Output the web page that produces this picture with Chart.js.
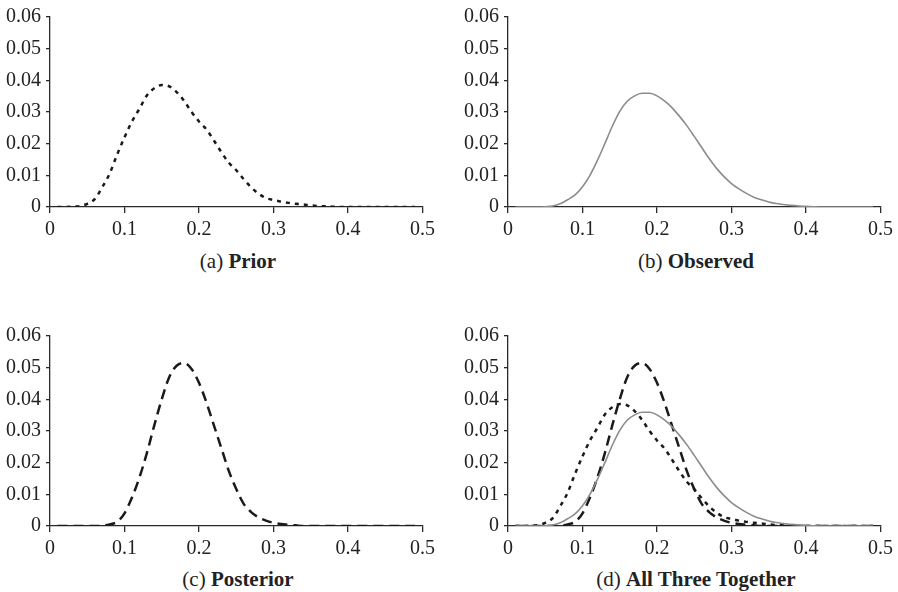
<!DOCTYPE html>
<html>
<head>
<meta charset="utf-8">
<script src="https://cdn.jsdelivr.net/npm/chart.js@4"></script>
<style>
    body { margin: 0; background: #fff; width: 898px; height: 592px; position: relative; overflow: hidden; }
    .panel { position: absolute; }
    .caption { position: absolute; font-family: 'Liberation Serif', serif; font-size: 21px; color: #222; text-align: center; width: 400px; }
</style>
</head>
<body>
<div class="panel" style="left:0;top:0;width:440px;height:240px"><canvas id="chartA"></canvas></div>
<div class="panel" style="left:450px;top:0;width:448px;height:240px"><canvas id="chartB"></canvas></div>
<div class="panel" style="left:0;top:319px;width:440px;height:240px"><canvas id="chartC"></canvas></div>
<div class="panel" style="left:450px;top:319px;width:448px;height:240px"><canvas id="chartD"></canvas></div>
<div class="caption" style="left:38px;top:249px">(a) <b>Prior</b></div>
<div class="caption" style="left:496px;top:249px">(b) <b>Observed</b></div>
<div class="caption" style="left:38px;top:567px">(c) <b>Posterior</b></div>
<div class="caption" style="left:496px;top:567px">(d) <b>All Three Together</b></div>
<script>
(function app() {

    const proportions = [0.01, 0.02, 0.03, 0.04, 0.05, 0.06, 0.07, 0.08, 0.09, 0.10,
        0.11, 0.12, 0.13, 0.14, 0.15, 0.16, 0.17, 0.18, 0.19, 0.20,
        0.21, 0.22, 0.23, 0.24, 0.25, 0.26, 0.27, 0.28, 0.29, 0.30,
        0.31, 0.32, 0.33, 0.34, 0.35, 0.36, 0.37, 0.38, 0.39, 0.40,
        0.41, 0.42, 0.43, 0.44, 0.45, 0.46, 0.47, 0.48, 0.49];

    const prior = [0, 0, 0.0001, 0.0003, 0.001, 0.0025, 0.0062, 0.0105, 0.0165, 0.022,
        0.027, 0.031, 0.0352, 0.0375, 0.0385, 0.0381, 0.0363, 0.0335, 0.030, 0.027,
        0.0245, 0.021, 0.0173, 0.014, 0.0116, 0.0088, 0.0062, 0.0042, 0.0028, 0.0022,
        0.0017, 0.0013, 0.001, 0.0008, 0.0005, 0.0003, 0.0002, 0.0001, 0, 0,
        0, 0, 0, 0, 0, 0, 0, 0, 0];

    const observed = [0, 0, 0, 0, 0.0001, 0.0003, 0.001, 0.0023, 0.0038, 0.0064,
        0.010, 0.0147, 0.020, 0.0255, 0.0302, 0.0334, 0.0351, 0.0359, 0.0359, 0.0351,
        0.0335, 0.0314, 0.0287, 0.0257, 0.0223, 0.0188, 0.0153, 0.0122, 0.0096, 0.0074,
        0.0057, 0.0043, 0.0031, 0.0023, 0.0016, 0.0011, 0.0008, 0.0005, 0.0003, 0.0002,
        0.0001, 0, 0, 0, 0, 0, 0, 0, 0];

    const posterior = [0, 0, 0, 0, 0, 0, 0.0001, 0.0005, 0.0013, 0.004,
        0.009, 0.0153, 0.023, 0.0318, 0.040, 0.047, 0.0506, 0.0515, 0.0496, 0.0452,
        0.039, 0.0318, 0.0246, 0.0174, 0.0117, 0.007, 0.0044, 0.0027, 0.0017, 0.001,
        0.0006, 0.0004, 0.0002, 0, 0, 0, 0, 0, 0, 0,
        0, 0, 0, 0, 0, 0, 0, 0, 0];

    const xTicks = [0, 0.1, 0.2, 0.3, 0.4, 0.5];
    const yTicks = [0, 0.01, 0.02, 0.03, 0.04, 0.05, 0.06];

    const tickFont = { family: "'Liberation Serif', serif", size: 20 };
    const axisColor = '#2a2a2a';

    const toPoints = values => proportions.map((x, i) => ({ x: x, y: values[i] }));

    const priorSeries = () => ({
        data: toPoints(prior),
        borderColor: '#1a1a1a',
        borderWidth: 2.5,
        borderDash: [4, 5],
        pointRadius: 0,
        cubicInterpolationMode: 'monotone'
    });

    const observedSeries = () => ({
        data: toPoints(observed),
        borderColor: '#8c8c8c',
        borderWidth: 1.6,
        pointRadius: 0,
        cubicInterpolationMode: 'monotone'
    });

    const posteriorSeries = () => ({
        data: toPoints(posterior),
        borderColor: '#1a1a1a',
        borderWidth: 2.5,
        borderDash: [10, 6],
        pointRadius: 0,
        cubicInterpolationMode: 'monotone'
    });

    function makeChart(canvasId, datasets, yAxisWidth, rightPadding) {
        const configuration = {
            type: 'scatter',
            data: { datasets: datasets.map(d => Object.assign(d, { showLine: true })) },
            options: {
                responsive: true,
                maintainAspectRatio: false,
                animation: false,
                layout: { padding: { top: 14, right: rightPadding, bottom: 0, left: 0 } },
                plugins: { legend: { display: false }, tooltip: { enabled: false } },
                scales: {
                    x: {
                        type: 'linear',
                        min: 0,
                        max: 0.5,
                        afterBuildTicks: scale => { scale.ticks = xTicks.map(v => ({ value: v })); },
                        afterFit: scale => { scale.height = 33; },
                        border: { color: axisColor, width: 1.3 },
                        grid: { drawOnChartArea: false, color: axisColor, tickLength: 6, lineWidth: 1.3 },
                        ticks: {
                            color: '#222',
                            font: tickFont,
                            padding: 5,
                            maxRotation: 0,
                            callback: v => v === 0 ? '0' : v.toFixed(1)
                        }
                    },
                    y: {
                        type: 'linear',
                        min: 0,
                        max: 0.06,
                        afterBuildTicks: scale => { scale.ticks = yTicks.map(v => ({ value: v })); },
                        afterFit: scale => { scale.width = yAxisWidth; },
                        border: { color: axisColor, width: 1.3 },
                        grid: { drawOnChartArea: false, color: axisColor, tickLength: 4, lineWidth: 1.3 },
                        ticks: {
                            color: '#222',
                            font: tickFont,
                            padding: 5,
                            callback: v => v === 0 ? '0' : v.toFixed(2)
                        }
                    }
                }
            }
        };
        return new Chart(document.getElementById(canvasId), configuration);
    }

    makeChart('chartA', [priorSeries()], 50, 14);
    makeChart('chartB', [observedSeries()], 58, 13);
    makeChart('chartC', [posteriorSeries()], 50, 14);
    makeChart('chartD', [observedSeries(), posteriorSeries(), priorSeries()], 58, 13);
})();
</script>
</body>
</html>
